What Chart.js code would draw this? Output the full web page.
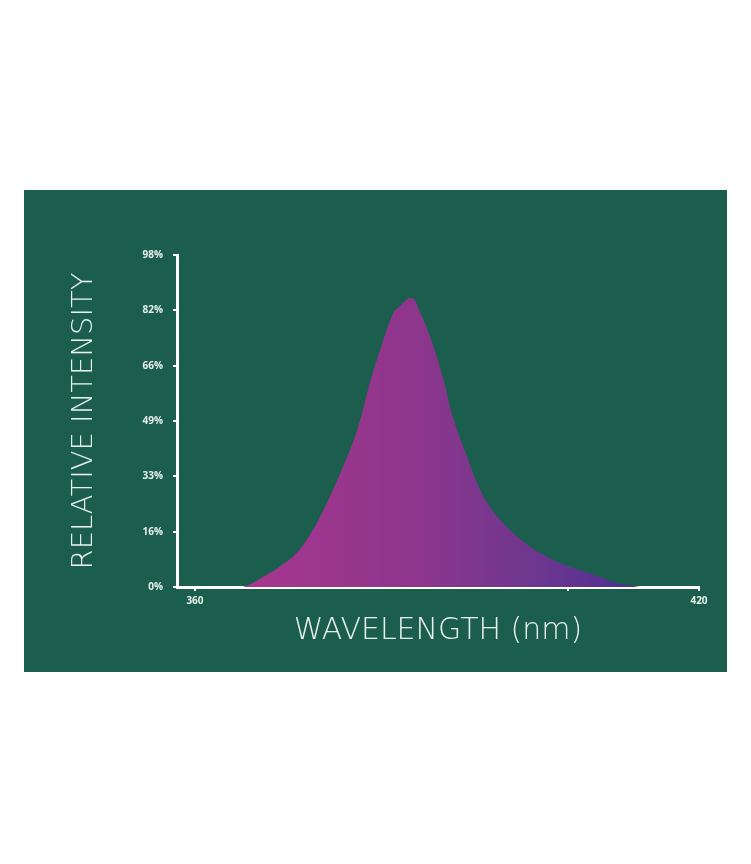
<!DOCTYPE html>
<html>
<head>
<meta charset="utf-8">
<script src="https://cdn.jsdelivr.net/npm/chart.js@4/dist/chart.umd.min.js"></script>
<style>
  body { margin: 0; background: #fff; }
  #panel { position: absolute; left: 24px; top: 190px; width: 703px; height: 482px; background: #1c5e4d; }
</style>
</head>
<body>
<div id="panel"><canvas id="chart" width="703" height="482"></canvas></div>
<script>
// spectrum: wavelength (nm) and relative intensity (%)
const wavelengths = [365.7, 366.9, 368.1, 370.1, 372.1, 373.7, 374.9, 377.3, 379.3, 380.8, 382.3, 383.6, 384.0, 385.8,
                     386.8, 388.0, 389.5, 390.7, 392.4, 393.6, 394.8, 396.0, 397.5, 399.3, 401.1, 403.5, 405.8,
                     408.2, 409.8, 413.0];
const intensity   = [0, 1.2, 3, 6, 10, 15.5, 20.7, 33.6, 46.3, 60, 72, 80.9, 82, 85.3,
                     81, 73.8, 62, 50.2, 38.4, 30.7, 24.8, 20.7, 16.8, 13, 10, 7, 5,
                     3, 1.5, 0];

const xTickValues = [360, 404.4, 420];
const xTickLabels = ['360', '', '420'];
const yTickLabels = ['0%', '16%', '33%', '49%', '66%', '82%', '98%'];
const yMax = 98;

const points = wavelengths.map((w, i) => ({ x: w, y: intensity[i] }));

function fillGradient(context) {
  const chart = context.chart;
  const { ctx, chartArea, scales } = chart;
  if (!chartArea) return '#8e3a8e';
  const x0 = scales.x.getPixelForValue(wavelengths[0]);
  const x1 = scales.x.getPixelForValue(wavelengths[wavelengths.length - 1]);
  const g = ctx.createLinearGradient(x0, 0, x1, 0);
  g.addColorStop(0, '#a8368f');
  g.addColorStop(0.45, '#8c368c');
  g.addColorStop(0.75, '#6c3790');
  g.addColorStop(1, '#4a2f8e');
  return g;
}

const titleFont = 'DejaVu Sans';

new Chart(document.getElementById('chart'), {
  type: 'line',
  data: {
    datasets: [{
      data: points,
      fill: 'origin',
      backgroundColor: fillGradient,
      borderWidth: 0,
      pointRadius: 0,
      tension: 0.4
    }]
  },
  options: {
    responsive: false,
    animation: false,
    layout: { padding: { top: 65, right: 28, left: 0, bottom: 0 } },
    plugins: { legend: { display: false }, tooltip: { enabled: false } },
    scales: {
      x: {
        type: 'linear',
        min: 357.86,
        max: 420,
        afterFit: (scale) => { scale.height = 85; },
        afterBuildTicks: (scale) => { scale.ticks = xTickValues.map(v => ({ value: v })); },
        border: { color: '#fff', width: 3 },
        grid: { drawOnChartArea: false, color: '#fff', lineWidth: 2, tickLength: 4 },
        ticks: {
          color: '#e8f0ec',
          padding: 4,
          maxRotation: 0,
          font: { family: 'Open Sans', size: 10, weight: 'bold' },
          callback: (v, i) => xTickLabels[i]
        },
        title: {
          display: true,
          text: 'WAVELENGTH (nm)',
          color: '#e8f0ec',
          font: { family: titleFont, size: 30, weight: '200' },
          padding: { top: 0, bottom: 23 }
        }
      },
      y: {
        min: 0,
        max: yMax,
        afterFit: (scale) => { scale.width = 153; },
        afterBuildTicks: (scale) => {
          scale.ticks = yTickLabels.map((_, i) => ({ value: i * yMax / (yTickLabels.length - 1) }));
        },
        border: { color: '#fff', width: 3 },
        grid: { drawOnChartArea: false, color: '#fff', lineWidth: 2, tickLength: 4 },
        ticks: {
          color: '#e8f0ec',
          padding: 10,
          font: { family: 'Open Sans', size: 10, weight: 'bold' },
          callback: (v, i) => yTickLabels[i]
        },
        title: {
          display: true,
          text: 'RELATIVE INTENSITY',
          color: '#e8f0ec',
          font: { family: titleFont, size: 29, weight: '200' },
          padding: { top: 43, bottom: 0 }
        }
      }
    }
  }
});
</script>
</body>
</html>
